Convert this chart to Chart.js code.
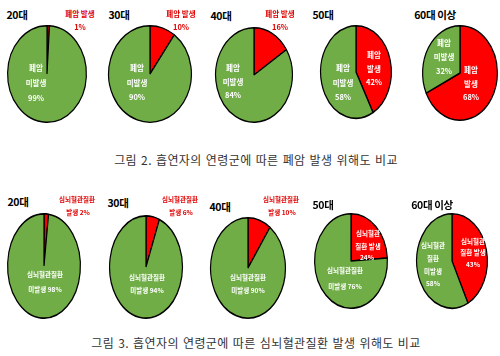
<!DOCTYPE html>
<html><head><meta charset="utf-8">
<script src="https://cdn.jsdelivr.net/npm/chart.js@4.4.0/dist/chart.umd.min.js"></script>
<style>
html,body{margin:0;padding:0;background:#fff;}
#wrap{position:relative;width:500px;height:356px;overflow:hidden;background:#fff;font-family:"Noto Sans CJK KR","Noto Sans",sans-serif;}
.pie{position:absolute;}
.t{position:absolute;transform:translate(-50%,-50%);white-space:nowrap;line-height:1;}
.title{font-weight:700;font-size:10.5px;color:#000;letter-spacing:-0.4px;}
.red{font-weight:700;font-size:7.5px;color:#e00000;}
.red2{font-weight:700;font-size:6.5px;color:#e00000;}
.w{font-weight:700;font-size:7.5px;color:#fff;}
.w2{font-weight:700;font-size:6.5px;color:#fff;}
.cap{font-size:12px;color:#333;letter-spacing:0.4px;word-spacing:1px;}
</style></head><body><div id="wrap"></div>
<script>
// ---- data ----
const ageGroups = ['20대', '30대', '40대', '50대', '60대 이상'];
const lungYes = [1, 10, 16, 42, 68];
const lungNo  = [99, 90, 84, 58, 32];
const cvdYes  = [2, 6, 10, 24, 43];
const cvdNo   = [98, 94, 90, 76, 58];
const captions = ['그림 2. 흡연자의 연령군에 따른 폐암 발생 위해도 비교',
                  '그림 3. 흡연자의 연령군에 따른 심뇌혈관질환 발생 위해도 비교'];

// ---- layout ----
const RED = '#ff0000', GREEN = '#70ad47';
const row1Geo = [[47,74,40,49],[150,74,42,49],[254,75,39,48],[356,72,36,47],[460,73,38,48]];
const row2Geo = [[44,266,37,53],[146,267,37,52],[248,268,38,51],[351,261,37,48],[452,261,36,48]];
const wrap = document.getElementById('wrap');

const ellipse = {
  id: 'ellipse',
  beforeDatasetsDraw(chart, args, opts) {
    const arc = chart.getDatasetMeta(0).data[0];
    const ctx = chart.ctx;
    ctx.save();
    ctx.translate(arc.x, arc.y);
    ctx.scale(1, opts.sy || 1);
    ctx.translate(-arc.x, -arc.y);
  },
  afterDatasetsDraw(chart) { chart.ctx.restore(); }
};

function makePie(geo, yes, no) {
  const [cx, cy, rx, ry] = geo;
  const pad = 2;
  const div = document.createElement('div');
  div.className = 'pie';
  div.style.left = (cx - rx - pad) + 'px';
  div.style.top = (cy - ry - pad) + 'px';
  const c = document.createElement('canvas');
  c.width = 2 * rx + 2 * pad;
  c.height = 2 * ry + 2 * pad;
  div.appendChild(c);
  wrap.appendChild(div);
  new Chart(c, {
    type: 'pie',
    data: { labels: ['발생', '미발생'],
      datasets: [{ data: [yes, no], backgroundColor: [RED, GREEN], borderColor: '#000', borderWidth: 1.2 }] },
    options: {
      responsive: false, animation: false,
      layout: { padding: pad },
      plugins: { legend: { display: false }, tooltip: { enabled: false }, ellipse: { sy: ry / rx } }
    },
    plugins: [ellipse]
  });
}

function txt(x, y, s, cls) {
  const d = document.createElement('div');
  d.className = 't ' + cls;
  d.style.left = x + 'px';
  d.style.top = y + 'px';
  d.textContent = s;
  wrap.appendChild(d);
}

for (let i = 0; i < 5; i++) {
  makePie(row1Geo[i], lungYes[i], lungNo[i]);
  makePie(row2Geo[i], cvdYes[i], cvdNo[i]);
}

// ---- row 1 texts ----
const t1 = [[17,15],[119,15],[221,16],[323,15],[435,15]];
const t2 = [[18,202],[118,203],[220,207],[323,205],[432,205]];
ageGroups.forEach((g, i) => { txt(t1[i][0], t1[i][1], g, 'title'); txt(t2[i][0], t2[i][1], g, 'title'); });

// outside red labels (small slices)
[[80,0],[181,1],[280,2]].forEach(([x, i]) => {
  txt(x, 14, '폐암 발생', 'red');
  txt(x, 27, lungYes[i] + '%', 'red');
});
// green inside labels
[[36,68,83,98,0],[137,68,83,97,1],[233,68,82,95,2],[343,68,83,97,3]].forEach(([x, a, b, c, i]) => {
  txt(x, a, '폐암', 'w'); txt(x, b, '미발생', 'w'); txt(x, c, lungNo[i] + '%', 'w');
});
txt(444, 43, '폐암', 'w'); txt(444, 57, '미발생', 'w'); txt(444, 71, lungNo[4] + '%', 'w');
// red inside labels
txt(374, 55, '폐암', 'w'); txt(374, 69, '발생', 'w'); txt(374, 82, lungYes[3] + '%', 'w');
txt(471, 70, '폐암', 'w'); txt(471, 84, '발생', 'w'); txt(471, 97, lungYes[4] + '%', 'w');

// ---- row 2 texts ----
[[77,0],[180,1],[281,2]].forEach(([x, i]) => {
  txt(x, 199, '심뇌혈관질환', 'red2');
  txt(x + 1, 212, '발생 ' + cvdYes[i] + '%', 'red2');
});
[[45,274,289,0],[147,277,290,1],[248,277,290,2],[345,270,286,3]].forEach(([x, a, b, i]) => {
  txt(x, a, '심뇌혈관질환', 'w2'); txt(x, b, '미발생 ' + cvdNo[i] + '%', 'w2');
});
txt(368, 233, '심뇌혈관', 'w2'); txt(368, 246, '질환 발생', 'w2'); txt(367, 257, cvdYes[3] + '%', 'w2');
txt(433, 245, '심뇌혈관', 'w2'); txt(433, 258, '질환', 'w2'); txt(433, 271, '미발생', 'w2'); txt(433, 283, cvdNo[4] + '%', 'w2');
txt(473, 241, '심뇌혈관', 'w2'); txt(473, 252, '질환 발생', 'w2'); txt(473, 264, cvdYes[4] + '%', 'w2');

// captions
txt(256, 160, captions[0], 'cap');
txt(256, 343, captions[1], 'cap');
</script>
</body></html>
